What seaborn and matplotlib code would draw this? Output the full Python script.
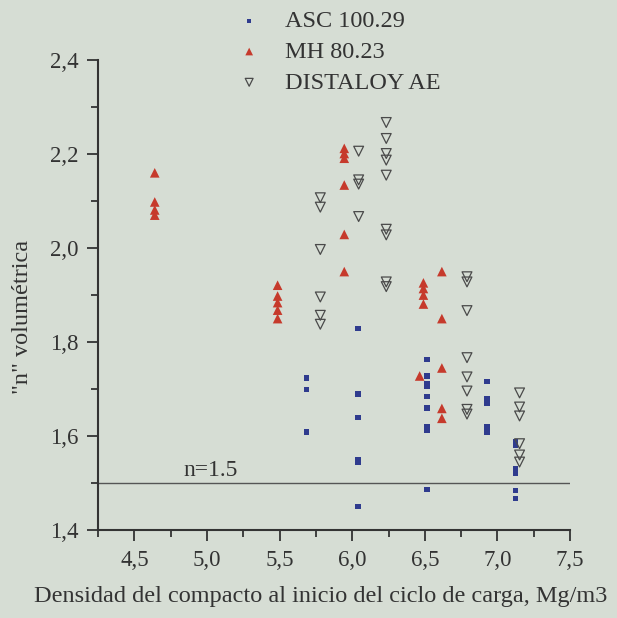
import numpy as np
import pandas as pd
import seaborn as sns
import matplotlib.pyplot as plt
from matplotlib.ticker import MultipleLocator, FuncFormatter

# data
asc_x = [5.684, 5.684, 5.684,
         6.04, 6.04, 6.04, 6.04, 6.04, 6.04,
         6.514, 6.514, 6.514, 6.514, 6.514, 6.514, 6.514, 6.514, 6.514,
         6.927, 6.927, 6.927, 6.927, 6.927,
         7.122, 7.122, 7.122, 7.122, 7.122, 7.122]
asc_y = [1.724, 1.699, 1.609,
         1.829, 1.690, 1.640, 1.551, 1.545, 1.450,
         1.763, 1.728, 1.712, 1.705, 1.685, 1.660, 1.620, 1.613, 1.487,
         1.716, 1.680, 1.670, 1.620, 1.609,
         1.588, 1.581, 1.531, 1.522, 1.484, 1.467]

mh_x = [4.64, 4.64, 4.64, 4.64,
        5.486, 5.486, 5.486, 5.486, 5.486,
        5.945, 5.945, 5.945, 5.945, 5.945, 5.945,
        6.49, 6.49, 6.49, 6.49, 6.464,
        6.617, 6.617, 6.617, 6.617, 6.617]
mh_y = [2.160, 2.098, 2.081, 2.070,
        1.921, 1.898, 1.884, 1.868, 1.850,
        2.212, 2.201, 2.191, 2.134, 2.029, 1.950,
        1.926, 1.914, 1.900, 1.881, 1.728,
        1.950, 1.850, 1.745, 1.659, 1.638]

dist_x = [5.78, 5.78, 5.78, 5.78, 5.78, 5.78,
          6.044, 6.044, 6.044, 6.044,
          6.234, 6.234, 6.234, 6.234, 6.234, 6.234, 6.234, 6.234, 6.234,
          6.79, 6.79, 6.79, 6.79, 6.79, 6.79, 6.79, 6.79,
          7.152, 7.152, 7.152, 7.152, 7.152, 7.152]
dist_y = [2.107, 2.087, 1.997, 1.896, 1.857, 1.838,
          2.206, 2.145, 2.136, 2.067,
          2.267, 2.233, 2.201, 2.187, 2.155, 2.040, 2.028, 1.928, 1.918,
          1.939, 1.928, 1.867, 1.767, 1.726, 1.696, 1.657, 1.647,
          1.692, 1.662, 1.643, 1.584, 1.560, 1.545]

n_ref = 1.5

bg = '#d6ddd4'
ink = '#333333'
sns.set_style('ticks')
plt.rcParams['font.family'] = ['Liberation Serif', 'DejaVu Serif']

fig, ax = plt.subplots(figsize=(6.17, 6.18), dpi=100, facecolor=bg)
ax.set_facecolor(bg)
plt.subplots_adjust(left=0.159, right=0.924, top=0.903, bottom=0.142)

sns.scatterplot(x=asc_x, y=asc_y, ax=ax, marker='s', s=15, color='#2f3b8e',
                edgecolor='none', label='ASC 100.29', zorder=3)
sns.scatterplot(x=mh_x, y=mh_y, ax=ax, marker='^', s=48, color='#c63a2c',
                edgecolor='none', label='MH 80.23', zorder=3)
sns.scatterplot(x=dist_x, y=dist_y, ax=ax, marker='v', s=50, facecolor='none',
                edgecolor='#4a4a4a', linewidth=0.9, label='DISTALOY AE', zorder=3)

ax.axhline(n_ref, color='#555555', lw=1.0, zorder=2)
ax.text(4.835, 1.527, 'n=1.5', fontsize=17, color=ink, va='center', ha='left')

ax.set_xlim(4.25, 7.5)
ax.set_ylim(1.4, 2.4)
ax.xaxis.set_major_locator(MultipleLocator(0.5))
ax.xaxis.set_minor_locator(MultipleLocator(0.25))
ax.yaxis.set_major_locator(MultipleLocator(0.2))
ax.yaxis.set_minor_locator(MultipleLocator(0.1))
comma = FuncFormatter(lambda v, p: f'{v:.1f}'.replace('.', ','))
ax.xaxis.set_major_formatter(comma)
ax.yaxis.set_major_formatter(comma)
ax.set_xticks([4.5, 5.0, 5.5, 6.0, 6.5, 7.0, 7.5])

sns.despine(ax=ax)
for sp in ['left', 'bottom']:
    ax.spines[sp].set_color(ink)
    ax.spines[sp].set_linewidth(1.5)
ax.tick_params(which='major', length=8, width=1.3, color=ink,
               labelsize=16.5, labelcolor=ink, pad=6)
ax.tick_params(which='minor', length=5, width=1.3, color=ink)

ax.set_xlabel('Densidad del compacto al inicio del ciclo de carga, Mg/m3',
              fontsize=17.5, color=ink, labelpad=10)
ax.xaxis.set_label_coords(0.472, -0.118)
ax.set_ylabel('"n" volumétrica', fontsize=17.5, color=ink)
ax.yaxis.set_label_coords(-0.138, 0.453)

ax.legend(loc='upper left', bbox_to_anchor=(0.329, 1.019), bbox_transform=fig.transFigure,
          frameon=False, fontsize=17.5, labelspacing=0.36, handletextpad=0.48,
          labelcolor=ink, markerscale=0.8)

fig.savefig('out.png', dpi=100, facecolor=bg)
